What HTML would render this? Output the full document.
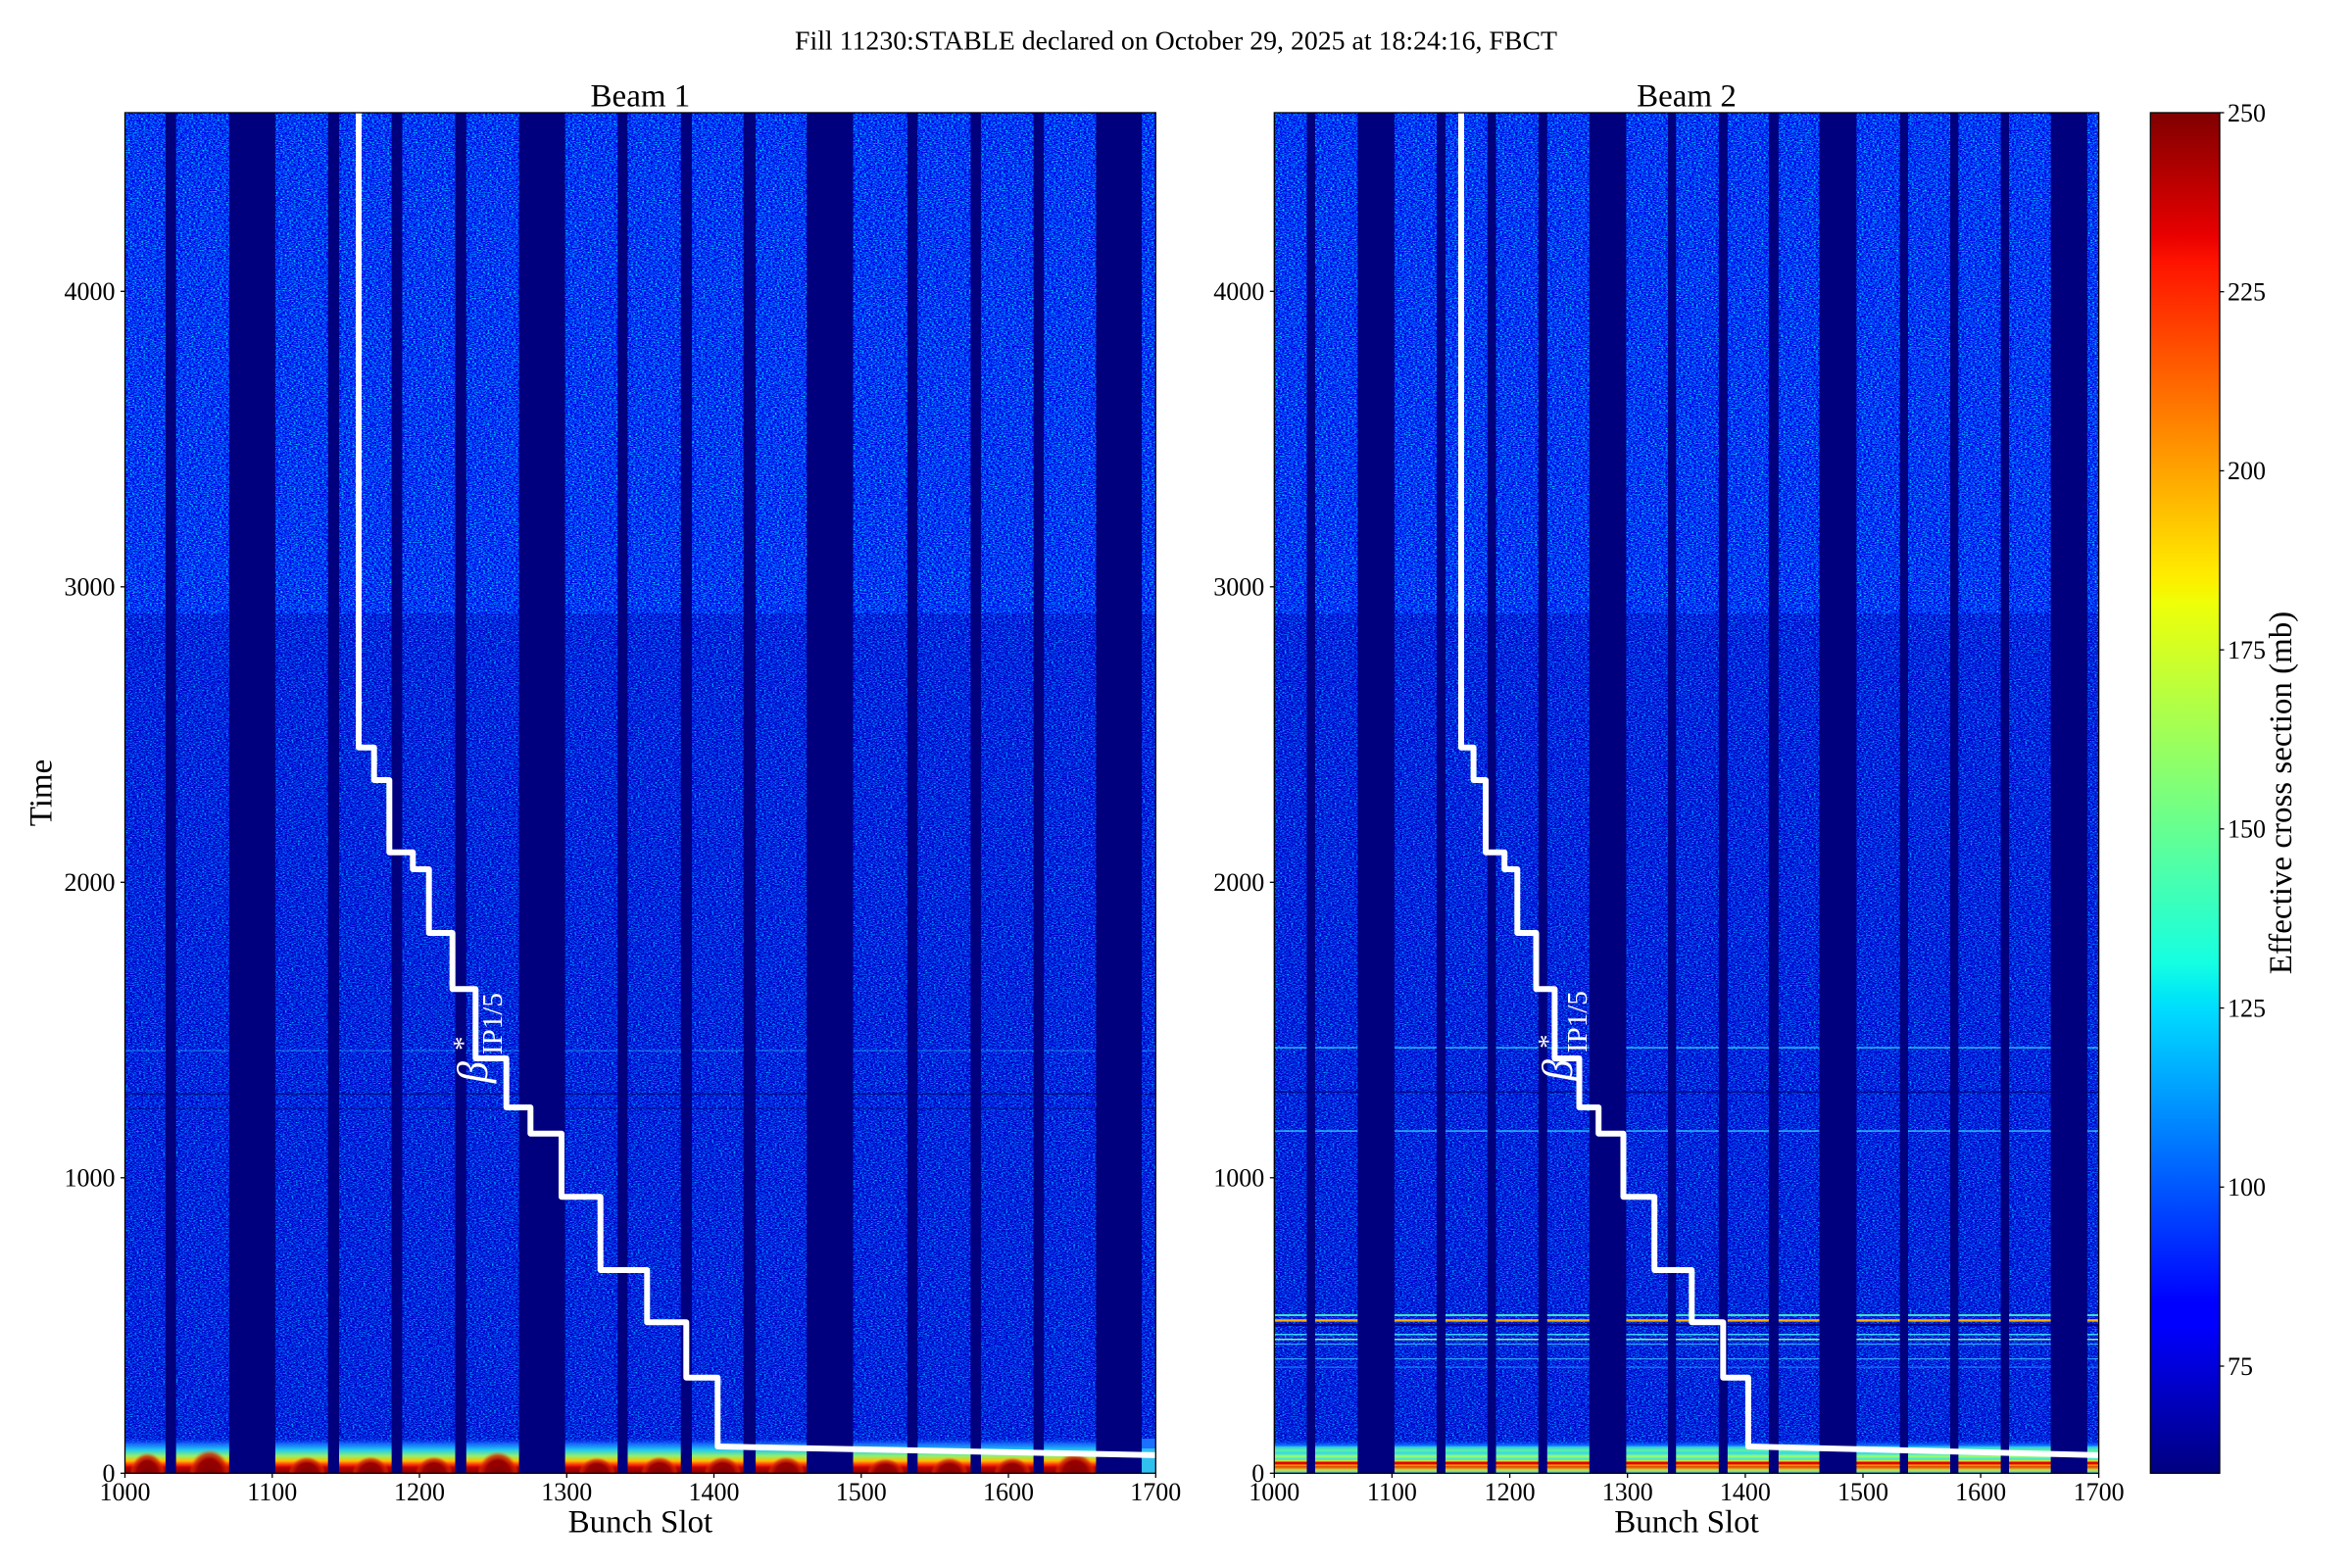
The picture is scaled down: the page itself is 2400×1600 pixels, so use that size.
<!DOCTYPE html>
<html>
<head>
<meta charset="utf-8">
<style>
html,body{margin:0;padding:0;background:#fff;}
svg{display:block;}
text{font-family:"Liberation Serif","DejaVu Serif",serif;fill:#000;}
</style>
</head>
<body>
<svg xmlns="http://www.w3.org/2000/svg" width="2400" height="1600" viewBox="0 0 2400 1600">
<defs>
  <filter id="fhi" x="0" y="0" width="1" height="1" color-interpolation-filters="sRGB">
    <feTurbulence type="fractalNoise" baseFrequency="0.45 1.1" numOctaves="2" seed="4"/>
    <feColorMatrix type="matrix" values="0 0 0 0 0  2.6 0 0 0 -1.12  0.6 0 0 0 0.66  0 0 0 0 1"/>
  </filter>
  <filter id="flo" x="0" y="0" width="1" height="1" color-interpolation-filters="sRGB">
    <feTurbulence type="fractalNoise" baseFrequency="0.45 1.1" numOctaves="2" seed="9"/>
    <feColorMatrix type="matrix" values="0 0 0 0 0  2.2 0 0 0 -1.0  0.6 0 0 0 0.56  0 0 0 0 1"/>
  </filter>
  <linearGradient id="jet" x1="0" y1="1" x2="0" y2="0">
    <stop offset="0" stop-color="rgb(0,0,128)"/>
    <stop offset="0.11" stop-color="rgb(0,0,255)"/>
    <stop offset="0.125" stop-color="rgb(0,0,255)"/>
    <stop offset="0.34" stop-color="rgb(0,219,255)"/>
    <stop offset="0.35" stop-color="rgb(0,230,247)"/>
    <stop offset="0.375" stop-color="rgb(21,255,226)"/>
    <stop offset="0.64" stop-color="rgb(239,255,8)"/>
    <stop offset="0.65" stop-color="rgb(247,245,0)"/>
    <stop offset="0.66" stop-color="rgb(255,236,0)"/>
    <stop offset="0.89" stop-color="rgb(255,19,0)"/>
    <stop offset="0.91" stop-color="rgb(232,0,0)"/>
    <stop offset="1" stop-color="rgb(128,0,0)"/>
  </linearGradient>
  <linearGradient id="b1bot" x1="0" y1="1468" x2="0" y2="1503.3" gradientUnits="userSpaceOnUse">
    <stop offset="0" stop-color="#1040f0" stop-opacity="0"/>
    <stop offset="0.15" stop-color="#1a70ff" stop-opacity="0.9"/>
    <stop offset="0.32" stop-color="#20c8f0"/>
    <stop offset="0.5" stop-color="#90f070"/>
    <stop offset="0.64" stop-color="#ffc000"/>
    <stop offset="0.74" stop-color="#ff4000"/>
    <stop offset="0.83" stop-color="#c00000"/>
    <stop offset="1" stop-color="#880000"/>
  </linearGradient>
  <radialGradient id="hump">
    <stop offset="0" stop-color="#800000"/>
    <stop offset="0.6" stop-color="#9a0000"/>
    <stop offset="0.82" stop-color="#d02000" stop-opacity="0.75"/>
    <stop offset="1" stop-color="#ff6000" stop-opacity="0"/>
  </radialGradient>
  <linearGradient id="b2bot" x1="0" y1="1470" x2="0" y2="1503.3" gradientUnits="userSpaceOnUse">
    <stop offset="0" stop-color="#1050ff" stop-opacity="0"/>
    <stop offset="0.15" stop-color="#1070ff"/>
    <stop offset="0.2" stop-color="#30d0e0"/>
    <stop offset="0.3" stop-color="#60f0a0"/>
    <stop offset="0.39" stop-color="#30d8f0"/>
    <stop offset="0.48" stop-color="#a0ff60"/>
    <stop offset="0.57" stop-color="#40e0e0"/>
    <stop offset="0.63" stop-color="#ffe000"/>
    <stop offset="0.66" stop-color="#e00000"/>
    <stop offset="0.73" stop-color="#e00000"/>
    <stop offset="0.74" stop-color="#ffd000"/>
    <stop offset="0.8" stop-color="#e04000"/>
    <stop offset="0.9" stop-color="#d0e040"/>
    <stop offset="1" stop-color="#30d0ff"/>
  </linearGradient>
  <clipPath id="c1"><rect x="127.5" y="115" width="1051.8" height="1388.3"/></clipPath>
  <clipPath id="c2"><rect x="1300.3" y="115" width="841.3" height="1388.3"/></clipPath>
</defs>

<!-- Suptitle -->
<text x="1200" y="50.7" font-size="27" text-anchor="middle" textLength="778" lengthAdjust="spacingAndGlyphs">Fill 11230:STABLE declared on October 29, 2025 at 18:24:16, FBCT</text>

<!-- ================= BEAM 1 ================= -->
<text x="653.4" y="108.3" font-size="33" text-anchor="middle">Beam 1</text>
<g clip-path="url(#c1)">
  <rect x="127.5" y="115" width="1051.8" height="511" filter="url(#fhi)"/>
  <rect x="127.5" y="626" width="1051.8" height="877.3" filter="url(#flo)"/>
  <rect x="127.5" y="1071.5" width="1051.8" height="1.2" fill="#30c0ff" opacity="0.5"/>
  <rect x="127.5" y="1115.5" width="1051.8" height="1.5" fill="#000060" opacity="0.6"/>
  <rect x="127.5" y="1130.5" width="1051.8" height="1.2" fill="#000060" opacity="0.5"/>
  <!-- bottom -->
  <rect x="127.5" y="1468" width="1051.8" height="35.3" fill="url(#b1bot)"/>
  <g fill="url(#hump)">
    <ellipse cx="150.4" cy="1504" rx="18" ry="22"/>
    <ellipse cx="213.8" cy="1504" rx="21" ry="25"/>
    <ellipse cx="313.2" cy="1504" rx="19" ry="18"/>
    <ellipse cx="378.2" cy="1504" rx="19" ry="18"/>
    <ellipse cx="442.9" cy="1504" rx="19" ry="18"/>
    <ellipse cx="508.1" cy="1504" rx="21" ry="23"/>
    <ellipse cx="609.2" cy="1504" rx="19" ry="17"/>
    <ellipse cx="673" cy="1504" rx="19" ry="18"/>
    <ellipse cx="737.5" cy="1504" rx="19" ry="18"/>
    <ellipse cx="802.3" cy="1504" rx="19" ry="18"/>
    <ellipse cx="903.7" cy="1504" rx="19" ry="16"/>
    <ellipse cx="968.8" cy="1504" rx="19" ry="17"/>
    <ellipse cx="1033.1" cy="1504" rx="19" ry="17"/>
    <ellipse cx="1097.1" cy="1504" rx="21" ry="22"/>
  </g>
  <rect x="1165" y="1468" width="15" height="36" fill="#1a70ff"/>
  <rect x="1165" y="1478" width="15" height="26" fill="#30c0f0"/>
  <!-- gaps -->
  <g fill="#00007f">
    <rect x="168.97" y="115" width="10.67" height="1389"/>
    <rect x="233.88" y="115" width="47.03" height="1389"/>
    <rect x="334.70" y="115" width="11.27" height="1389"/>
    <rect x="399.62" y="115" width="10.82" height="1389"/>
    <rect x="464.53" y="115" width="11.27" height="1389"/>
    <rect x="529.59" y="115" width="47.03" height="1389"/>
    <rect x="630.26" y="115" width="10.22" height="1389"/>
    <rect x="694.72" y="115" width="11.27" height="1389"/>
    <rect x="758.58" y="115" width="12.47" height="1389"/>
    <rect x="823.19" y="115" width="47.33" height="1389"/>
    <rect x="925.81" y="115" width="10.52" height="1389"/>
    <rect x="990.43" y="115" width="10.52" height="1389"/>
    <rect x="1054.59" y="115" width="10.52" height="1389"/>
    <rect x="1118.45" y="115" width="46.58" height="1389"/>
  </g>
  <polyline fill="none" stroke="#fff" stroke-width="6" stroke-linejoin="round"
    points="366,110 366,762.7 381.7,762.7 381.7,796 397.3,796 397.3,869.7 421.3,869.7 421.3,887 437.7,887 437.7,952 461.7,952 461.7,1009.3 485.3,1009.3 485.3,1080 516.7,1080 516.7,1130 541.3,1130 541.3,1156.7 573,1156.7 573,1221.3 612.7,1221.3 612.7,1296 660.3,1296 660.3,1349.3 700.3,1349.3 700.3,1405.7 732.3,1405.7 732.3,1476 1185,1485"/>
  <g transform="translate(497,1105) rotate(-90)">
    <text x="0" y="0" font-size="44" font-style="italic" style="fill:#fff">β</text>
    <text x="33" y="-15" font-size="29" style="fill:#fff">*</text>
    <text x="29" y="15" font-size="29" style="fill:#fff">IP1/5</text>
  </g>
</g>
<rect x="127.5" y="115" width="1051.8" height="1388.3" fill="none" stroke="#000" stroke-width="1.3"/>
<g stroke="#000" stroke-width="1.3">
  <line x1="127.5" y1="1503.3" x2="127.5" y2="1508"/>
  <line x1="277.8" y1="1503.3" x2="277.8" y2="1508"/>
  <line x1="428" y1="1503.3" x2="428" y2="1508"/>
  <line x1="578.3" y1="1503.3" x2="578.3" y2="1508"/>
  <line x1="728.5" y1="1503.3" x2="728.5" y2="1508"/>
  <line x1="878.8" y1="1503.3" x2="878.8" y2="1508"/>
  <line x1="1029" y1="1503.3" x2="1029" y2="1508"/>
  <line x1="1179.3" y1="1503.3" x2="1179.3" y2="1508"/>
  <line x1="123" y1="1503.3" x2="127.5" y2="1503.3"/>
  <line x1="123" y1="1201.8" x2="127.5" y2="1201.8"/>
  <line x1="123" y1="900.3" x2="127.5" y2="900.3"/>
  <line x1="123" y1="598.8" x2="127.5" y2="598.8"/>
  <line x1="123" y1="297.3" x2="127.5" y2="297.3"/>
</g>
<g font-size="26" text-anchor="middle">
  <text x="127.5" y="1531">1000</text>
  <text x="277.8" y="1531">1100</text>
  <text x="428" y="1531">1200</text>
  <text x="578.3" y="1531">1300</text>
  <text x="728.5" y="1531">1400</text>
  <text x="878.8" y="1531">1500</text>
  <text x="1029" y="1531">1600</text>
  <text x="1179.3" y="1531">1700</text>
</g>
<g font-size="26" text-anchor="end">
  <text x="117.5" y="1512.1">0</text>
  <text x="117.5" y="1210.6">1000</text>
  <text x="117.5" y="909.1">2000</text>
  <text x="117.5" y="607.6">3000</text>
  <text x="117.5" y="306.1">4000</text>
</g>
<text x="653.4" y="1563.3" font-size="33" text-anchor="middle">Bunch Slot</text>
<text transform="translate(52.3,809) rotate(-90)" font-size="33" text-anchor="middle">Time</text>

<!-- ================= BEAM 2 ================= -->
<text x="1721" y="108.3" font-size="33" text-anchor="middle">Beam 2</text>
<g clip-path="url(#c2)">
  <rect x="1300.3" y="115" width="841.3" height="511" filter="url(#fhi)"/>
  <rect x="1300.3" y="626" width="841.3" height="877.3" filter="url(#flo)"/>
  <g>
    <rect x="1300.3" y="1068.3" width="841.3" height="1.6" fill="#30c8ff" opacity="0.85"/>
    <rect x="1300.3" y="1113.5" width="841.3" height="1.6" fill="#000070" opacity="0.7"/>
    <rect x="1300.3" y="1153.3" width="841.3" height="1.6" fill="#30c8ff" opacity="0.85"/>
    <rect x="1300.3" y="1341" width="841.3" height="2" fill="#40e0c0"/>
    <rect x="1300.3" y="1346.2" width="841.3" height="2.4" fill="#ffb000"/>
    <rect x="1300.3" y="1350.8" width="841.3" height="2" fill="#000080"/>
    <rect x="1300.3" y="1361" width="841.3" height="1.5" fill="#40d0ff"/>
    <rect x="1300.3" y="1366" width="841.3" height="1.5" fill="#80ff80"/>
    <rect x="1300.3" y="1371" width="841.3" height="1.2" fill="#40c0ff" opacity="0.8"/>
    <rect x="1300.3" y="1386" width="841.3" height="1.2" fill="#40c0ff" opacity="0.8"/>
    <rect x="1300.3" y="1394.5" width="841.3" height="1.2" fill="#2090ff" opacity="0.8"/>
  </g>
  <rect x="1300.3" y="1470" width="841.3" height="33.3" fill="url(#b2bot)"/>
  <g fill="#00007f">
    <rect x="1333.46" y="115" width="8.53" height="1389"/>
    <rect x="1385.36" y="115" width="37.6" height="1389"/>
    <rect x="1465.97" y="115" width="9.01" height="1389"/>
    <rect x="1517.88" y="115" width="8.65" height="1389"/>
    <rect x="1569.78" y="115" width="9.01" height="1389"/>
    <rect x="1621.80" y="115" width="37.6" height="1389"/>
    <rect x="1702.05" y="115" width="8.17" height="1389"/>
    <rect x="1753.83" y="115" width="9.01" height="1389"/>
    <rect x="1804.9" y="115" width="9.96" height="1389"/>
    <rect x="1856.5" y="115" width="37.9" height="1389"/>
    <rect x="1938.60" y="115" width="8.41" height="1389"/>
    <rect x="1989.96" y="115" width="8.41" height="1389"/>
    <rect x="2041.59" y="115" width="8.41" height="1389"/>
    <rect x="2092.62" y="115" width="37.25" height="1389"/>
  </g>
  <polyline fill="none" stroke="#fff" stroke-width="6" stroke-linejoin="round"
    points="1491,110 1491,762.7 1503.6,762.7 1503.6,796 1516,796 1516,869.7 1535.2,869.7 1535.2,887 1548.3,887 1548.3,952 1567.5,952 1567.5,1009.3 1586.4,1009.3 1586.4,1080 1611.5,1080 1611.5,1130 1631.2,1130 1631.2,1156.7 1656.5,1156.7 1656.5,1221.3 1688.2,1221.3 1688.2,1296 1726.3,1296 1726.3,1349.3 1758.3,1349.3 1758.3,1405.7 1783.9,1405.7 1783.9,1476 2147,1485"/>
  <g transform="translate(1604,1103) rotate(-90)">
    <text x="0" y="0" font-size="44" font-style="italic" style="fill:#fff">β</text>
    <text x="33" y="-15" font-size="29" style="fill:#fff">*</text>
    <text x="29" y="15" font-size="29" style="fill:#fff">IP1/5</text>
  </g>
</g>
<rect x="1300.3" y="115" width="841.3" height="1388.3" fill="none" stroke="#000" stroke-width="1.3"/>
<g stroke="#000" stroke-width="1.3">
  <line x1="1300.3" y1="1503.3" x2="1300.3" y2="1508"/>
  <line x1="1420.4" y1="1503.3" x2="1420.4" y2="1508"/>
  <line x1="1540.6" y1="1503.3" x2="1540.6" y2="1508"/>
  <line x1="1660.7" y1="1503.3" x2="1660.7" y2="1508"/>
  <line x1="1780.9" y1="1503.3" x2="1780.9" y2="1508"/>
  <line x1="1901" y1="1503.3" x2="1901" y2="1508"/>
  <line x1="2021.1" y1="1503.3" x2="2021.1" y2="1508"/>
  <line x1="2141.6" y1="1503.3" x2="2141.6" y2="1508"/>
  <line x1="1295.8" y1="1503.3" x2="1300.3" y2="1503.3"/>
  <line x1="1295.8" y1="1201.8" x2="1300.3" y2="1201.8"/>
  <line x1="1295.8" y1="900.3" x2="1300.3" y2="900.3"/>
  <line x1="1295.8" y1="598.8" x2="1300.3" y2="598.8"/>
  <line x1="1295.8" y1="297.3" x2="1300.3" y2="297.3"/>
</g>
<g font-size="26" text-anchor="middle">
  <text x="1300.3" y="1531">1000</text>
  <text x="1420.4" y="1531">1100</text>
  <text x="1540.6" y="1531">1200</text>
  <text x="1660.7" y="1531">1300</text>
  <text x="1780.9" y="1531">1400</text>
  <text x="1901" y="1531">1500</text>
  <text x="2021.1" y="1531">1600</text>
  <text x="2141.6" y="1531">1700</text>
</g>
<g font-size="26" text-anchor="end">
  <text x="1290.3" y="1512.1">0</text>
  <text x="1290.3" y="1210.6">1000</text>
  <text x="1290.3" y="909.1">2000</text>
  <text x="1290.3" y="607.6">3000</text>
  <text x="1290.3" y="306.1">4000</text>
</g>
<text x="1721" y="1563.3" font-size="33" text-anchor="middle">Bunch Slot</text>

<!-- ================= COLORBAR ================= -->
<rect x="2194.3" y="115" width="70.7" height="1388.3" fill="url(#jet)" stroke="#000" stroke-width="1.3"/>
<g stroke="#000" stroke-width="1.3">
  <line x1="2265" y1="115" x2="2269.5" y2="115"/>
  <line x1="2265" y1="297.7" x2="2269.5" y2="297.7"/>
  <line x1="2265" y1="480.4" x2="2269.5" y2="480.4"/>
  <line x1="2265" y1="663.1" x2="2269.5" y2="663.1"/>
  <line x1="2265" y1="845.8" x2="2269.5" y2="845.8"/>
  <line x1="2265" y1="1028.6" x2="2269.5" y2="1028.6"/>
  <line x1="2265" y1="1211.3" x2="2269.5" y2="1211.3"/>
  <line x1="2265" y1="1394" x2="2269.5" y2="1394"/>
</g>
<g font-size="26" text-anchor="start">
  <text x="2273" y="123.8">250</text>
  <text x="2273" y="306.5">225</text>
  <text x="2273" y="489.2">200</text>
  <text x="2273" y="671.9">175</text>
  <text x="2273" y="854.6">150</text>
  <text x="2273" y="1037.4">125</text>
  <text x="2273" y="1220.1">100</text>
  <text x="2273" y="1402.8">75</text>
</g>
<text transform="translate(2338,809) rotate(-90)" font-size="33" text-anchor="middle">Effective cross section (mb)</text>
</svg>
</body>
</html>
